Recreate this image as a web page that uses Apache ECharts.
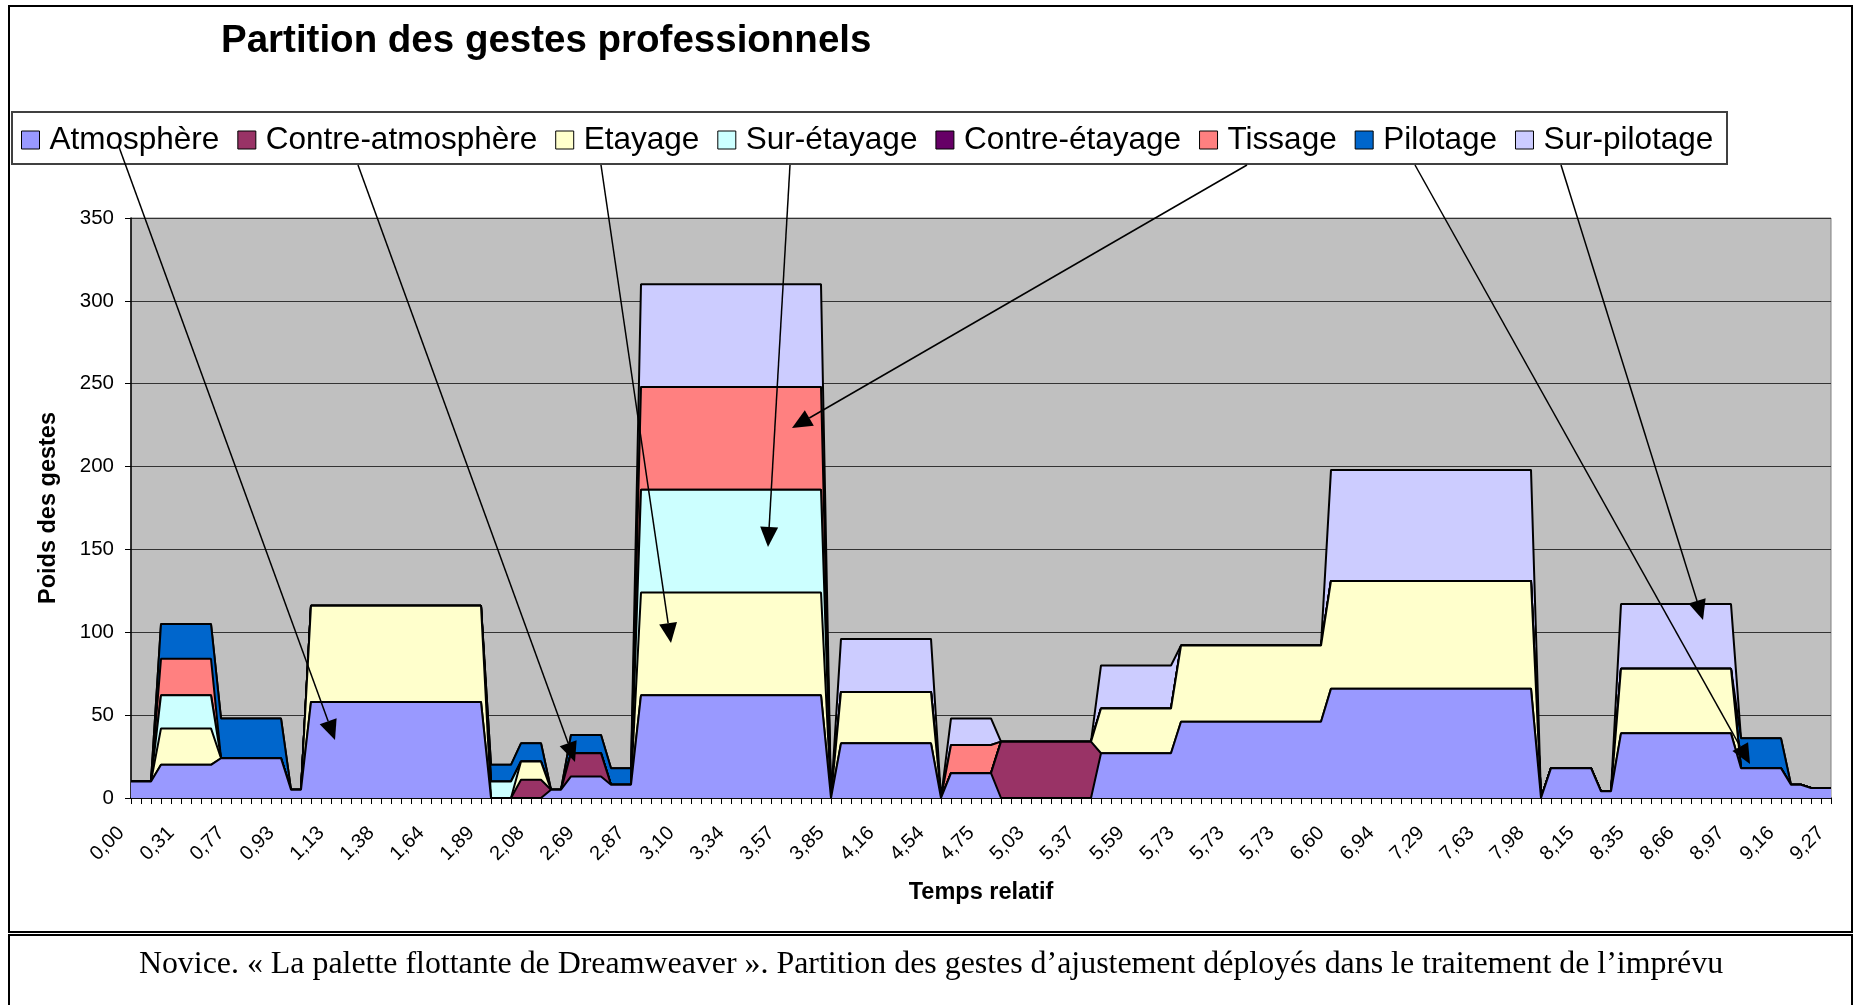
<!DOCTYPE html>
<html>
<head>
<meta charset="UTF-8">
<title>Partition des gestes professionnels</title>
<script type="text/javascript" src="https://cdn.jsdelivr.net/npm/echarts@6/dist/echarts.min.js"></script>
<style>
html, body { margin: 0; padding: 0; background: #fff; }
#main { width: 1854px; height: 1005px; }
</style>
</head>
<body>
<div id="main"></div>
<script type="text/javascript">
// étiquettes visibles de l'axe des temps (une catégorie sur cinq)
var tickLabels = ['0,00','0,31','0,77','0,93','1,13','1,38','1,64','1,89','2,08','2,69',
                  '2,87','3,10','3,34','3,57','3,85','4,16','4,54','4,75','5,03','5,37',
                  '5,59','5,73','5,73','5,73','6,60','6,94','7,29','7,63','7,98','8,15',
                  '8,35','8,66','8,97','9,16','9,27'];

// poids des gestes, un point par catégorie (171 points)
var atmosphere = [10,10,10,20,20,20,20,20,20,24,
                  24,24,24,24,24,24,5,5,58,58,
                  58,58,58,58,58,58,58,58,58,58,
                  58,58,58,58,58,58,0,0,0,0,
                  0,0,5,5,13,13,13,13,8,8,
                  8,62,62,62,62,62,62,62,62,62,
                  62,62,62,62,62,62,62,62,62,62,
                  0,33,33,33,33,33,33,33,33,33,
                  33,0,15,15,15,15,15,0,0,0,
                  0,0,0,0,0,0,0,27,27,27,
                  27,27,27,27,27,46,46,46,46,46,
                  46,46,46,46,46,46,46,46,46,46,
                  66,66,66,66,66,66,66,66,66,66,
                  66,66,66,66,66,66,66,66,66,66,
                  66,0,18,18,18,18,18,4,4,39,
                  39,39,39,39,39,39,39,39,39,39,
                  39,18,18,18,18,18,8,8,6,6,
                  6];
var contreAtmosphere = [0,0,0,0,0,0,0,0,0,0,
                  0,0,0,0,0,0,0,0,0,0,
                  0,0,0,0,0,0,0,0,0,0,
                  0,0,0,0,0,0,0,0,0,11,
                  11,11,0,0,14,14,14,14,0,0,
                  0,0,0,0,0,0,0,0,0,0,
                  0,0,0,0,0,0,0,0,0,0,
                  0,0,0,0,0,0,0,0,0,0,
                  0,0,0,0,0,0,0,34,34,34,
                  34,34,34,34,34,34,34,0,0,0,
                  0,0,0,0,0,0,0,0,0,0,
                  0,0,0,0,0,0,0,0,0,0,
                  0,0,0,0,0,0,0,0,0,0,
                  0,0,0,0,0,0,0,0,0,0,
                  0,0,0,0,0,0,0,0,0,0,
                  0,0,0,0,0,0,0,0,0,0,
                  0,0,0,0,0,0,0,0,0,0,
                  0];
var etayage = [0,0,0,22,22,22,22,22,22,0,
                  0,0,0,0,0,0,0,0,58,58,
                  58,58,58,58,58,58,58,58,58,58,
                  58,58,58,58,58,58,0,0,0,11,
                  11,11,0,0,0,0,0,0,0,0,
                  0,62,62,62,62,62,62,62,62,62,
                  62,62,62,62,62,62,62,62,62,62,
                  0,31,31,31,31,31,31,31,31,31,
                  31,0,0,0,0,0,0,0,0,0,
                  0,0,0,0,0,0,0,27,27,27,
                  27,27,27,27,27,46,46,46,46,46,
                  46,46,46,46,46,46,46,46,46,46,
                  65,65,65,65,65,65,65,65,65,65,
                  65,65,65,65,65,65,65,65,65,65,
                  65,0,0,0,0,0,0,0,0,39,
                  39,39,39,39,39,39,39,39,39,39,
                  39,0,0,0,0,0,0,0,0,0,
                  0];
var surEtayage = [0,0,0,20,20,20,20,20,20,0,
                  0,0,0,0,0,0,0,0,0,0,
                  0,0,0,0,0,0,0,0,0,0,
                  0,0,0,0,0,0,10,10,10,0,
                  0,0,0,0,0,0,0,0,0,0,
                  0,62,62,62,62,62,62,62,62,62,
                  62,62,62,62,62,62,62,62,62,62,
                  0,0,0,0,0,0,0,0,0,0,
                  0,0,0,0,0,0,0,0,0,0,
                  0,0,0,0,0,0,0,0,0,0,
                  0,0,0,0,0,0,0,0,0,0,
                  0,0,0,0,0,0,0,0,0,0,
                  0,0,0,0,0,0,0,0,0,0,
                  0,0,0,0,0,0,0,0,0,0,
                  0,0,0,0,0,0,0,0,0,0,
                  0,0,0,0,0,0,0,0,0,0,
                  0,0,0,0,0,0,0,0,0,0,
                  0];
var contreEtayage = [0,0,0,0,0,0,0,0,0,0,
                  0,0,0,0,0,0,0,0,0,0,
                  0,0,0,0,0,0,0,0,0,0,
                  0,0,0,0,0,0,0,0,0,0,
                  0,0,0,0,0,0,0,0,0,0,
                  0,0,0,0,0,0,0,0,0,0,
                  0,0,0,0,0,0,0,0,0,0,
                  0,0,0,0,0,0,0,0,0,0,
                  0,0,0,0,0,0,0,0,0,0,
                  0,0,0,0,0,0,0,0,0,0,
                  0,0,0,0,0,0,0,0,0,0,
                  0,0,0,0,0,0,0,0,0,0,
                  0,0,0,0,0,0,0,0,0,0,
                  0,0,0,0,0,0,0,0,0,0,
                  0,0,0,0,0,0,0,0,0,0,
                  0,0,0,0,0,0,0,0,0,0,
                  0,0,0,0,0,0,0,0,0,0,
                  0];
var tissage = [0,0,0,22,22,22,22,22,22,0,
                  0,0,0,0,0,0,0,0,0,0,
                  0,0,0,0,0,0,0,0,0,0,
                  0,0,0,0,0,0,0,0,0,0,
                  0,0,0,0,0,0,0,0,0,0,
                  0,62,62,62,62,62,62,62,62,62,
                  62,62,62,62,62,62,62,62,62,62,
                  0,0,0,0,0,0,0,0,0,0,
                  0,0,17,17,17,17,17,0,0,0,
                  0,0,0,0,0,0,0,0,0,0,
                  0,0,0,0,0,0,0,0,0,0,
                  0,0,0,0,0,0,0,0,0,0,
                  0,0,0,0,0,0,0,0,0,0,
                  0,0,0,0,0,0,0,0,0,0,
                  0,0,0,0,0,0,0,0,0,0,
                  0,0,0,0,0,0,0,0,0,0,
                  0,0,0,0,0,0,0,0,0,0,
                  0];
var pilotage = [0,0,0,21,21,21,21,21,21,24,
                  24,24,24,24,24,24,0,0,0,0,
                  0,0,0,0,0,0,0,0,0,0,
                  0,0,0,0,0,0,10,10,10,11,
                  11,11,0,0,11,11,11,11,10,10,
                  10,0,0,0,0,0,0,0,0,0,
                  0,0,0,0,0,0,0,0,0,0,
                  0,0,0,0,0,0,0,0,0,0,
                  0,0,0,0,0,0,0,0,0,0,
                  0,0,0,0,0,0,0,0,0,0,
                  0,0,0,0,0,0,0,0,0,0,
                  0,0,0,0,0,0,0,0,0,0,
                  0,0,0,0,0,0,0,0,0,0,
                  0,0,0,0,0,0,0,0,0,0,
                  0,0,0,0,0,0,0,0,0,0,
                  0,0,0,0,0,0,0,0,0,0,
                  0,18,18,18,18,18,0,0,0,0,
                  0];
var surPilotage = [0,0,0,0,0,0,0,0,0,0,
                  0,0,0,0,0,0,0,0,0,0,
                  0,0,0,0,0,0,0,0,0,0,
                  0,0,0,0,0,0,0,0,0,0,
                  0,0,0,0,0,0,0,0,0,0,
                  0,62,62,62,62,62,62,62,62,62,
                  62,62,62,62,62,62,62,62,62,62,
                  0,32,32,32,32,32,32,32,32,32,
                  32,0,16,16,16,16,16,0,0,0,
                  0,0,0,0,0,0,0,26,26,26,
                  26,26,26,26,26,0,0,0,0,0,
                  0,0,0,0,0,0,0,0,0,0,
                  67,67,67,67,67,67,67,67,67,67,
                  67,67,67,67,67,67,67,67,67,67,
                  67,0,0,0,0,0,0,0,0,39,
                  39,39,39,39,39,39,39,39,39,39,
                  39,0,0,0,0,0,0,0,0,0,
                  0];

var seriesNames = ['Atmosphère','Contre-atmosphère','Etayage','Sur-étayage','Contre-étayage','Tissage','Pilotage','Sur-pilotage'];
var seriesColors = ['#9999FF','#993366','#FFFFCC','#CCFFFF','#660066','#FF8080','#0066CC','#CCCCFF'];
var seriesData = [atmosphere, contreAtmosphere, etayage, surEtayage, contreEtayage, tissage, pilotage, surPilotage];

// flèches d'annotation (départ sous la légende -> zone visée), en pixels
var fleches = [
    {de: [119, 147], vers: [335, 740]},
    {de: [358, 165], vers: [575, 762]},
    {de: [601, 165], vers: [671, 643]},
    {de: [790, 165], vers: [768, 547]},
    {de: [1247, 165], vers: [792, 428]},
    {de: [1415, 165], vers: [1750, 764]},
    {de: [1561, 165], vers: [1703, 620]}
];

var police = '"Liberation Sans", Arial, sans-serif';

// catégories : une étiquette connue toutes les 5 positions
var categories = [];
for (var i = 0; i < atmosphere.length; i++) {
    categories.push(i % 5 === 0 ? tickLabels[i / 5] : '');
}

var series = [];
var legendData = [];
for (var k = 0; k < seriesNames.length; k++) {
    series.push({
        name: seriesNames[k],
        type: 'line',
        stack: 'gestes',
        data: seriesData[k],
        symbol: 'none',
        showSymbol: false,
        z: 20 - k,
        silent: true,
        lineStyle: {color: '#000', width: 2},
        areaStyle: {color: seriesColors[k], opacity: 1},
        emphasis: {disabled: true}
    });
    legendData.push({
        name: seriesNames[k],
        itemStyle: {color: seriesColors[k], borderColor: '#000', borderWidth: 1}
    });
}

var elements = [
    // cadre du graphique
    {type: 'rect', shape: {x: 9, y: 6, width: 1843, height: 926}, style: {fill: 'none', stroke: '#000', lineWidth: 2}, z: 0},
    // cadre de la légende
    {type: 'rect', shape: {x: 12, y: 112, width: 1715, height: 52}, style: {fill: '#fff', stroke: '#404040', lineWidth: 2}, z: 1},
    // cadre de la légende du document
    {type: 'rect', shape: {x: 9, y: 935, width: 1843, height: 80}, style: {fill: 'none', stroke: '#000', lineWidth: 2}, z: 0},
    {type: 'text', x: 931, y: 965, z: 5, style: {
        text: 'Novice. « La palette flottante de Dreamweaver ». Partition des gestes d’ajustement déployés dans le traitement de l’imprévu',
        fontSize: 31.9, fontFamily: '"Liberation Serif", "Times New Roman", serif', fill: '#000',
        align: 'center', verticalAlign: 'middle'}}
];
fleches.forEach(function (f) {
    var dx = f.vers[0] - f.de[0], dy = f.vers[1] - f.de[1];
    var len = Math.sqrt(dx * dx + dy * dy), ux = dx / len, uy = dy / len;
    var L = 20, W = 9;
    var bx = f.vers[0] - ux * L, by = f.vers[1] - uy * L;
    elements.push({type: 'line', z: 50, shape: {x1: f.de[0], y1: f.de[1], x2: bx, y2: by},
        style: {stroke: '#000', lineWidth: 1.5}});
    elements.push({type: 'polygon', z: 50, shape: {points: [[f.vers[0], f.vers[1]], [bx - uy * W, by + ux * W], [bx + uy * W, by - ux * W]]},
        style: {fill: '#000'}});
});

var myChart = echarts.init(document.getElementById('main'));
myChart.setOption({
    animation: false,
    backgroundColor: '#fff',
    title: {
        text: 'Partition des gestes professionnels',
        left: 221, top: 22, padding: 0,
        textStyle: {fontSize: 38.5, fontWeight: 'bold', color: '#000', fontFamily: police}
    },
    legend: {
        data: legendData,
        left: 21, top: 124, padding: 0,
        icon: 'rect', itemWidth: 18, itemHeight: 18, itemGap: 18,
        selectedMode: false,
        textStyle: {fontSize: 31.5, color: '#000', fontFamily: police, padding: [0, 0, 0, 5]}
    },
    grid: {
        left: 131, top: 218, width: 1700, height: 580,
        show: true, backgroundColor: '#C0C0C0', borderColor: '#808080', borderWidth: 1
    },
    xAxis: {
        type: 'category', data: categories, boundaryGap: false,
        name: 'Temps relatif', nameLocation: 'middle', nameGap: 83,
        nameTextStyle: {fontSize: 23.5, fontWeight: 'bold', color: '#000', fontFamily: police},
        axisLine: {show: true, lineStyle: {color: '#000', width: 1.5}},
        axisTick: {show: true, interval: 0, length: 6, lineStyle: {color: '#000'}},
        axisLabel: {interval: 4, rotate: 45, fontSize: 20, color: '#000', fontFamily: police, margin: 22, padding: [0, 14, 0, 0]},
        splitLine: {show: false}
    },
    yAxis: {
        type: 'value', min: 0, max: 350, interval: 50,
        name: 'Poids des gestes', nameLocation: 'middle', nameGap: 70,
        nameTextStyle: {fontSize: 23.5, fontWeight: 'bold', color: '#000', fontFamily: police},
        axisLine: {show: true, lineStyle: {color: '#000', width: 1.5}},
        axisTick: {show: true, length: 6, lineStyle: {color: '#000'}},
        axisLabel: {fontSize: 20.5, color: '#000', fontFamily: police, margin: 17},
        splitLine: {show: true, lineStyle: {color: '#333', width: 1}}
    },
    graphic: {elements: elements},
    series: series
});
</script>
</body>
</html>
